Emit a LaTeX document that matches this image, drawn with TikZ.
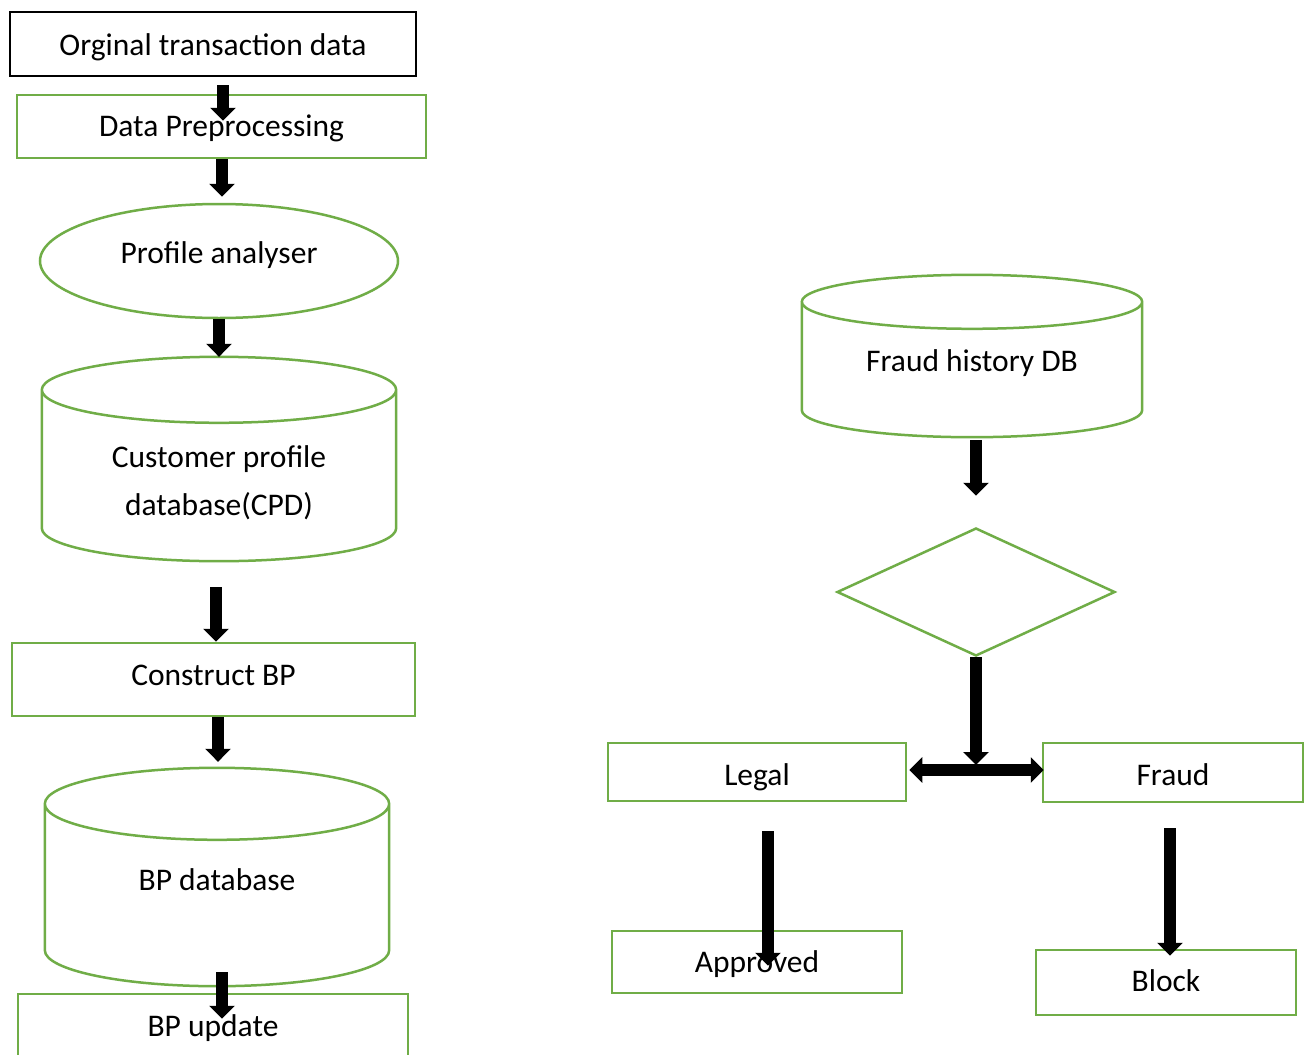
\documentclass[tikz,border=0pt]{standalone}
\usepackage{fontspec}
\setmainfont{Carlito}
\usetikzlibrary{shapes.geometric,arrows.meta,calc}
\definecolor{leaf}{HTML}{70AD47}

% database outline drawn around an (invisible) node: #1 node name, #2 cap radius
\newcommand\dbdraw[2]{%
  \draw[outline] let \p1=(#1.north west), \p2=(#1.south east), \n1={(\x2-\x1)/2} in
    (\x1,\y1-#2) -- (\x1,\y2+#2)
    arc[start angle=180,end angle=360,x radius=\n1,y radius=#2]
    -- (\x2,\y1-#2)
    arc[start angle=0,end angle=360,x radius=\n1,y radius=#2];}

\tikzset{
  every node/.style={font=\fontsize{31.5}{47.7}\selectfont, inner sep=0pt},
  lbl/.style={text height=22pt, text depth=7pt},
  inputbox/.style={draw=black, line width=2.5pt, rectangle, lbl},
  procbox/.style={draw=leaf, line width=2.5pt, rectangle, lbl},
  outline/.style={draw=leaf, line width=2.5pt},
  dbbody/.style={rectangle},
  tip/.tip={Triangle[width=25pt,length=13pt]},
  flow/.style={line width=12pt, -tip},
  dualflow/.style={line width=12pt, tip-tip},
}

\begin{document}
\begin{tikzpicture}[x=1pt,y=1pt]
\clip (0,0) rectangle (1310,-1055);
\fill[white] (0,0) rectangle (1310,-1055);

% left column
\node[inputbox, minimum width=406, minimum height=64] (orig) at (213,-44) {\raisebox{-3.5pt}{Orginal transaction data}};
\node[procbox, minimum width=409, minimum height=63] (prep) at (221.5,-126.5) {\raisebox{-2.7pt}{Data Preprocessing}};
\node[outline, lbl, ellipse, minimum width=358, minimum height=114] (prof) at (219,-261) {\raisebox{5.2pt}{Profile analyser}};

\node[dbbody, minimum width=354, minimum height=204] (cpd) at (219,-459) {};
\dbdraw{cpd}{33pt}
\node[align=center] (cpdtext) at ([yshift=-23.5pt]cpd.center) {Customer profile\\database(CPD)};

\node[procbox, minimum width=403, minimum height=73] (cbp) at (213.5,-679.5) {\raisebox{1.3pt}{Construct BP}};

\node[dbbody, minimum width=344, minimum height=218] (bpdb) at (217,-877) {};
\dbdraw{bpdb}{36pt}
\node[lbl] (bpdbtext) at ([yshift=-6.2pt]bpdb.center) {BP database};

\node[procbox, minimum width=390, minimum height=70] (bpup) at (213,-1029) {\raisebox{0.5pt}{BP update}};

% right column
\node[dbbody, minimum width=340, minimum height=162] (fdb) at (972,-356) {};
\dbdraw{fdb}{27pt}
\node[lbl] (fdbtext) at ([yshift=-7.5pt]fdb.center) {Fraud history DB};

\node[outline, diamond, minimum width=278, minimum height=128] (dia) at (976,-592) {};

\node[procbox, minimum width=298, minimum height=58] (legal) at (757,-772) {\raisebox{-5.5pt}{Legal}};
\node[procbox, minimum width=260, minimum height=59] (fraud) at (1173,-772.5) {\raisebox{-5pt}{Fraud}};
\node[procbox, minimum width=290, minimum height=62] (appr) at (757,-962) {\raisebox{-2.8pt}{Approved}};
\node[procbox, minimum width=260, minimum height=65] (block) at (1166,-982.5) {\raisebox{-1.7pt}{Block}};

\coordinate (split) at (dia.south |- legal.east);

% connectors
\draw[flow] ([shift={(10,-8)}]orig.south) -- ([shift={(1.5,-27)}]prep.north);
\draw[flow] ([shift={(0.5,0)}]prep.south) -- ([shift={(3,6)}]prof.north);
\draw[flow] (prof.south) -- (cpd.north);
\draw[flow] ([shift={(-3,-26)}]cpd.south) -- ([shift={(2.5,0)}]cbp.north);
\draw[flow] ([shift={(4.5,0)}]cbp.south) -- ([shift={(1,6)}]bpdb.north);
\draw[flow] ([shift={(5,14)}]bpdb.south) -- ([shift={(9,-26)}]bpup.north);

\draw[flow] ([shift={(4,-3)}]fdb.south) -- ([shift={(0,31)}]dia.north);
\draw[flow] (dia.south) -- ([yshift=7pt]split);
\draw[dualflow] ([shift={(2,2)}]legal.east) -- ([shift={(2,2.5)}]fraud.west);
\draw[flow] ([shift={(11,-29)}]legal.south) -- ([shift={(11,-36)}]appr.north);
\draw[flow] ([shift={(-3,-25)}]fraud.south) -- ([shift={(4,-7)}]block.north);
\end{tikzpicture}
\end{document}
